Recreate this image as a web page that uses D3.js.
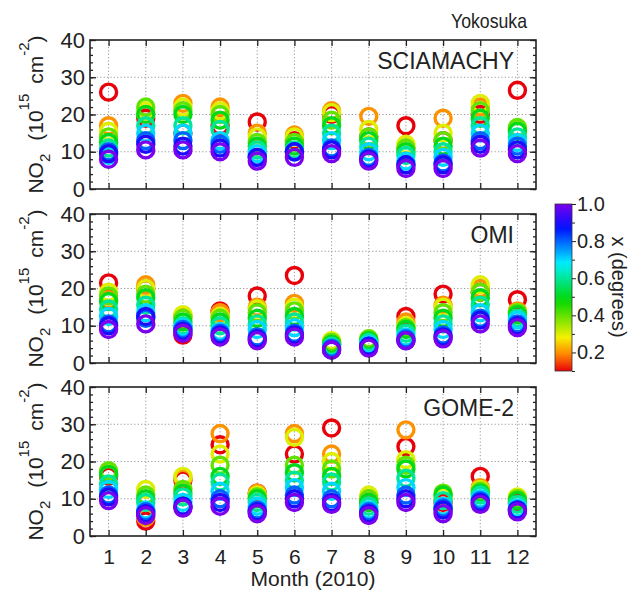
<!DOCTYPE html>
<html>
<head>
<meta charset="utf-8">
<script src="https://cdn.jsdelivr.net/npm/d3@7"></script>
<style>
  body { margin: 0; background: #fff; }
  text { font-family: "Liberation Sans", Arial, sans-serif; fill: #222; }
</style>
</head>
<body>
<svg width="629" height="591"></svg>
<script>
// months on the x axis, colour variable (x in degrees) for each circle
const months = [1, 2, 3, 4, 5, 6, 7, 8, 9, 10, 11, 12];
const xDeg = [0.1, 0.2, 0.3, 0.4, 0.5, 0.6, 0.7, 0.8, 0.9, 1.0];

// NO2 per month, one value per xDeg entry
const sciamachy = [
  [26, 17, 15.5, 14, 12.5, 11, 9, 10, 9.5, 8],
  [19, 20, 21, 22, 20, 17, 15, 13, 12, 10.5],
  [15, 23, 22, 21, 20, 17, 15, 13, 11.5, 10.5],
  [17, 22, 21, 20, 18.5, 16, 13, 12, 11, 10],
  [18, 15, 14, 12.5, 11.5, 10.5, 9.5, 8.5, 8.5, 7.5],
  [13, 14.5, 14, 12.5, 11.5, 10.5, 10, 10, 10, 8.5],
  [20, 21, 20.5, 18.5, 17, 15, 13, 11, 10.5, 9.5],
  [14, 19.5, 16, 14, 13, 11.5, 10, 8.5, 8, 7.5],
  [17, 11, 12, 11, 10, 9, 7.5, 6.5, 6.5, 5.5],
  [13, 19, 15, 13, 11.5, 10, 8.5, 7, 6.5, 5.5],
  [20, 22, 23, 21, 19, 17, 15, 13, 12, 11],
  [26.5, 16, 16, 16.5, 15.5, 14, 12.5, 11.5, 10.5, 9.5]
];
const omi = [
  [21.5, 17, 19, 18, 16.5, 14.5, 12.5, 10.5, 10, 9],
  [20, 21, 20, 18.5, 17.5, 15.5, 13.5, 12, 12.5, 10.5],
  [7.5, 12.5, 13, 12, 11, 10, 9.5, 9, 8.5, 8],
  [14, 13.5, 12.5, 12, 11, 10, 8.5, 8, 7.5, 7],
  [18, 15, 14.5, 13.5, 12, 10.5, 9, 7, 6.5, 6],
  [23.5, 16, 15, 14, 12.5, 11, 9.5, 8, 7.5, 7],
  [5, 5.5, 6, 5.5, 5, 4.5, 4, 4, 3.5, 3.5],
  [5, 6, 6.5, 6.5, 6, 5.5, 5, 4.5, 4.5, 4],
  [12.5, 11, 10, 9.5, 9, 8, 7, 6.5, 6, 6],
  [18.5, 15.5, 15, 13.5, 12, 10.5, 9, 7.5, 7, 6.5],
  [19, 20, 21, 19, 17.5, 15.5, 13.5, 12, 11.5, 10.5],
  [17, 14, 13.5, 13.5, 13, 12, 11.5, 10.5, 10, 9.5]
];
const gome2 = [
  [16, 16.5, 17, 17.5, 16.5, 14, 12.5, 11, 10.5, 9.5],
  [4, 5, 12.5, 11, 10, 9, 7, 6.5, 6, 5.5],
  [15, 15.5, 16, 12.5, 11.5, 10.5, 9, 8, 8, 7.5],
  [24.5, 27.5, 22, 19, 16, 14.5, 12, 10, 9, 8],
  [11.5, 11.5, 11, 10.5, 10, 9, 8, 7, 6.5, 6],
  [22, 27.5, 26.5, 19, 17, 15, 13, 11, 10, 9],
  [29, 22, 20, 18, 16, 14.5, 12, 10, 9, 8.5],
  [9, 10, 11, 10, 9, 8, 7, 6.5, 6, 5.5],
  [24, 28.5, 20.5, 19, 18, 15.5, 13, 11, 10, 9],
  [9, 8, 10.5, 11.5, 11, 9.5, 8, 7.5, 7, 6],
  [16, 13, 12.5, 12, 11.5, 11, 10, 9.5, 9, 8.5],
  [9, 10, 10.5, 10, 9.5, 8.5, 7.5, 7, 7, 6.5]
];
const yTicks = [0, 10, 20, 30, 40];
const cbTicks = [0.2, 0.4, 0.6, 0.8, 1.0];

const svg = d3.select("svg");
svg.append("rect").attr("width", 629).attr("height", 591).attr("fill", "#fff");

const panels = [
  { name: "SCIAMACHY", values: sciamachy, top: 40, bottom: 189 },
  { name: "OMI", values: omi, top: 214, bottom: 363 },
  { name: "GOME-2", values: gome2, top: 387, bottom: 536 }
];

const left = 90, right = 536;
const x = d3.scaleLinear().domain([0.5, 12.5]).range([left, right]);

// rainbow colour scale, red at 0.1 through violet at 1.0
const color = d3.scaleLinear()
  .domain([0.1, 0.18, 0.28, 0.48, 0.68, 0.87, 1.0])
  .range(["#e8000b", "#ff7a00", "#f5f000", "#00d800", "#00f0ff", "#0010ff", "#7a00ee"]);

panels.forEach((p, i) => {
  const y = d3.scaleLinear().domain([0, 40]).range([p.bottom, p.top]);
  const g = svg.append("g");

  // grid
  g.selectAll(".vg").data(months).enter().append("line")
    .attr("x1", d => x(d)).attr("x2", d => x(d))
    .attr("y1", p.top).attr("y2", p.bottom)
    .attr("stroke", "#999").attr("stroke-width", 1).attr("stroke-dasharray", "1.2,2.2");
  g.selectAll(".hg").data([10, 20, 30]).enter().append("line")
    .attr("x1", left).attr("x2", right)
    .attr("y1", d => y(d)).attr("y2", d => y(d))
    .attr("stroke", "#999").attr("stroke-width", 1).attr("stroke-dasharray", "1.2,2.2");

  // circles
  const pts = [];
  p.values.forEach((row, mi) => {
    row.forEach((v, k) => pts.push({ m: months[mi], deg: xDeg[k], v }));
  });
  g.selectAll("circle").data(pts).enter().append("circle")
    .attr("cx", d => x(d.m)).attr("cy", d => y(d.v)).attr("r", 8)
    .attr("fill", "none").attr("stroke", d => color(d.deg)).attr("stroke-width", 3.4);

  // axes with inward ticks
  const minor = d3.range(0, 41, 2);
  g.append("g").attr("transform", `translate(${left},0)`)
    .call(d3.axisLeft(y).tickValues(minor).tickSize(-3).tickFormat(""));
  g.append("g").attr("transform", `translate(${right},0)`)
    .call(d3.axisRight(y).tickValues(minor).tickSize(-3).tickFormat(""));
  g.append("g").attr("transform", `translate(${left},0)`)
    .call(d3.axisLeft(y).tickValues(yTicks).tickSize(-6).tickPadding(5))
    .call(a => a.selectAll("text").style("font-size", "22px"));
  g.append("g").attr("transform", `translate(${right},0)`)
    .call(d3.axisRight(y).tickValues(yTicks).tickSize(-6).tickFormat(""));
  g.append("g").attr("transform", `translate(0,${p.top})`)
    .call(d3.axisTop(x).tickValues(months).tickSize(-6).tickFormat(""));
  const bx = g.append("g").attr("transform", `translate(0,${p.bottom})`)
    .call(d3.axisBottom(x).tickValues(months).tickSize(-6).tickPadding(13));
  if (i < 2) bx.selectAll("text").remove();
  else bx.selectAll("text").style("font-size", "21px");
  g.selectAll(".domain").remove();
  g.selectAll(".tick line").attr("stroke", "#222").attr("stroke-width", 1.3);

  g.append("rect").attr("x", left).attr("y", p.top)
    .attr("width", right - left).attr("height", p.bottom - p.top)
    .attr("fill", "none").attr("stroke", "#222").attr("stroke-width", 1.6);

  g.append("text").attr("x", 514).attr("y", p.top + 29)
    .attr("text-anchor", "end").style("font-size", "23px").text(p.name);

  // y label
  const lab = g.append("text")
    .attr("transform", `translate(43,${(p.top + p.bottom) / 2}) rotate(-90)`)
    .attr("text-anchor", "middle").style("font-size", "21px");
  lab.append("tspan").text("NO");
  lab.append("tspan").attr("dy", 7).style("font-size", "15px").text("2");
  lab.append("tspan").attr("dy", -7).attr("dx", 13).text("(10");
  lab.append("tspan").attr("dy", -14).style("font-size", "15px").text("15");
  lab.append("tspan").attr("dy", 14).attr("dx", 10).text("cm");
  lab.append("tspan").attr("dy", -14).style("font-size", "15px").text("-2");
  lab.append("tspan").attr("dy", 14).text(")");
});

svg.append("text").attr("x", 527).attr("y", 28).attr("text-anchor", "end")
  .attr("textLength", 76).attr("lengthAdjust", "spacingAndGlyphs")
  .style("font-size", "21px").text("Yokosuka");

svg.append("text").attr("x", 313).attr("y", 586).attr("text-anchor", "middle")
  .style("font-size", "21px").text("Month (2010)");

// colour bar
const cb = d3.scaleLinear().domain([0.1, 1.0]).range([371, 204]);
const grad = svg.append("defs").append("linearGradient").attr("id", "cbg")
  .attr("x1", 0).attr("y1", 1).attr("x2", 0).attr("y2", 0);
grad.selectAll("stop").data(d3.range(0, 1.0001, 0.05)).enter().append("stop")
  .attr("offset", d => d).attr("stop-color", d => color(0.1 + d * 0.9));
svg.append("rect").attr("x", 555).attr("y", 204).attr("width", 17).attr("height", 167)
  .attr("fill", "url(#cbg)").attr("stroke", "#333").attr("stroke-width", 0.8);
const cbAxis = svg.append("g").attr("transform", "translate(572,0)");
cbAxis.call(d3.axisRight(cb).tickValues([0.1, 0.3, 0.5, 0.7, 0.9]).tickSize(3).tickFormat(""));
cbAxis.append("g").call(d3.axisRight(cb).tickValues(cbTicks).tickSize(4).tickPadding(1).tickFormat(d3.format(".1f")))
  .call(a => a.selectAll("text").style("font-size", "20px"));
cbAxis.selectAll(".domain").remove();
cbAxis.selectAll(".tick line").attr("stroke", "#222");

svg.append("text").attr("transform", "translate(612,287) rotate(90)")
  .attr("text-anchor", "middle").style("font-size", "20px").text("x (degrees)");
</script>
</body>
</html>
